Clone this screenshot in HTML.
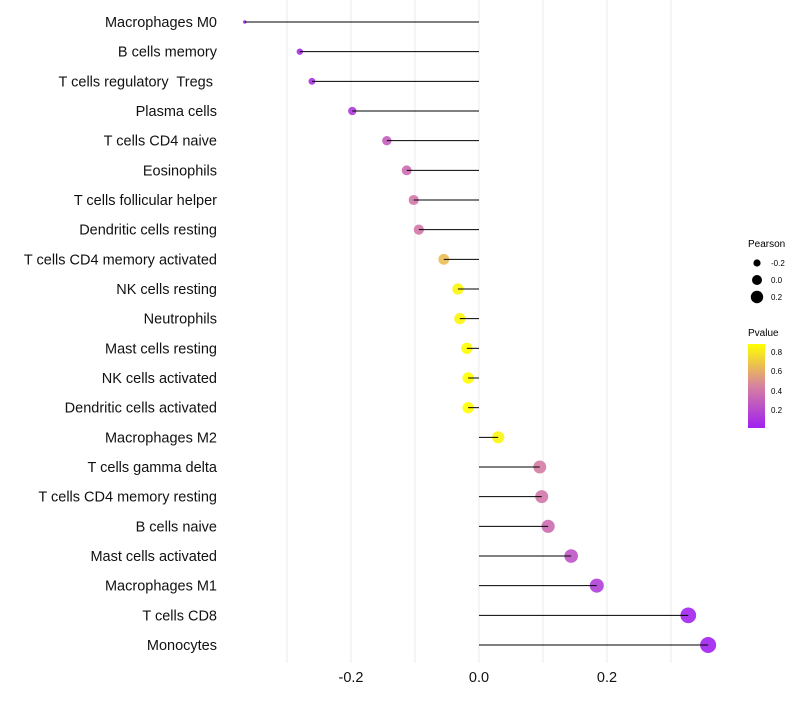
<!DOCTYPE html>
<html><head><meta charset="utf-8"><style>
body{margin:0;background:#fff}
svg text{font-family:"Liberation Sans",sans-serif;white-space:pre}
</style></head><body>
<svg id="chart" width="800" height="700" xmlns="http://www.w3.org/2000/svg">
<defs><linearGradient id="pg" x1="0" y1="1" x2="0" y2="0">
<stop offset="0" stop-color="#a020f0"/><stop offset="0.5" stop-color="#d7829f"/><stop offset="1" stop-color="#ffff00"/>
</linearGradient></defs>
<g id="grid"></g>
<g id="marks"></g>
<g id="ylabels"></g>
<g id="xlabels"></g>
<g>
<text x="748" y="247" font-size="10">Pearson</text>
<circle cx="757" cy="263" r="3.6" fill="#000"/><text x="771" y="266" font-size="8">-0.2</text>
<circle cx="757" cy="280" r="5" fill="#000"/><text x="771" y="283" font-size="8">0.0</text>
<circle cx="757" cy="297" r="6.2" fill="#000"/><text x="771" y="300" font-size="8">0.2</text>
</g>
<g>
<text x="748" y="336" font-size="10">Pvalue</text>
<rect x="748" y="344" width="17" height="84" fill="url(#pg)"/>
<text x="771" y="355" font-size="8">0.8</text>
<text x="771" y="394" font-size="8">0.4</text>
<text x="771" y="374" font-size="8">0.6</text>
<text x="771" y="413" font-size="8">0.2</text>
</g>
</svg>
<script>
const categories=["Macrophages M0","B cells memory","T cells regulatory  Tregs ","Plasma cells","T cells CD4 naive","Eosinophils","T cells follicular helper","Dendritic cells resting","T cells CD4 memory activated","NK cells resting","Neutrophils","Mast cells resting","NK cells activated","Dendritic cells activated","Macrophages M2","T cells gamma delta","T cells CD4 memory resting","B cells naive","Mast cells activated","Macrophages M1","T cells CD8","Monocytes"];
const pearson=[-0.366,-0.280,-0.261,-0.198,-0.144,-0.113,-0.102,-0.094,-0.055,-0.033,-0.030,-0.019,-0.017,-0.017,0.030,0.095,0.098,0.108,0.144,0.184,0.327,0.358];
const pvalue=[0.05,0.08,0.09,0.12,0.28,0.35,0.4,0.4,0.65,0.85,0.85,0.9,0.9,0.9,0.85,0.42,0.4,0.35,0.25,0.15,0.03,0.02];
const xTicks=[-0.2,0.0,0.2];
const xGrid=[-0.3,-0.2,-0.1,0,0.1,0.2,0.3];
const NS="http://www.w3.org/2000/svg";
const x=v=>479+v*640;
const y=i=>22+i*(623/21);
const rad=v=>Math.sqrt(Math.max(1,3+(v+0.366)*85));
function col(p){const t=Math.max(0,Math.min(1,(p-0.014)/0.866));
const a=[160,32,240],m=[215,130,159],b=[255,255,0];let c;
if(t<0.5){const u=t/0.5;c=a.map((k,i)=>k+(m[i]-k)*u);}else{const u=(t-0.5)/0.5;c=m.map((k,i)=>k+(b[i]-k)*u);}
return `rgb(${c.map(Math.round).join(",")})`;}
function mk(t,a,p){const e=document.createElementNS(NS,t);for(const k in a)e.setAttribute(k,a[k]);p.appendChild(e);return e;}
const g=document.getElementById('grid'),m=document.getElementById('marks'),yl=document.getElementById('ylabels'),xl=document.getElementById('xlabels');
xGrid.forEach(v=>{const l=mk('line',{x1:x(v),x2:x(v),y1:0,y2:663,stroke:'#ebebeb','stroke-width':1},g);

});
categories.forEach((c,i)=>{
const pt=mk('circle',{cx:x(pearson[i]),cy:y(i),r:rad(pearson[i]),fill:col(pvalue[i]),'fill-opacity':0.9},m);


const ln=mk('line',{x1:x(0),x2:x(pearson[i]),y1:y(i),y2:y(i),stroke:'#000','stroke-width':1},m);


const t=mk('text',{x:217,y:y(i)+5,'text-anchor':'end','font-size':14.5,fill:'#111'},yl);t.textContent=c;


});
xTicks.forEach(v=>{const t=mk('text',{x:x(v),y:682,'text-anchor':'middle','font-size':14.5,fill:'#111'},xl);t.textContent=v.toFixed(1);

});
</script>
</body></html>
